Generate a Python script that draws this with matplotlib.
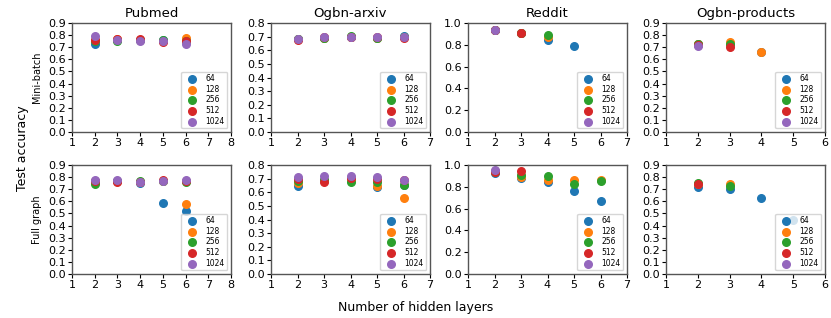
import matplotlib.pyplot as plt
import numpy as np

widths = ["64", "128", "256", "512", "1024"]
colors = ["tab:blue", "tab:orange", "tab:green", "tab:red", "tab:purple"]
datasets = ["Pubmed", "Ogbn-arxiv", "Reddit", "Ogbn-products"]
rows = ["Mini-batch", "Full graph"]

# layers used per (row, dataset, width) and the matching accuracies
mini_pubmed_x = [[2, 3, 4, 5, 6]] * 5
mini_pubmed_y = [[0.73, 0.76, 0.76, 0.76, 0.75],
                 [0.76, 0.77, 0.76, 0.75, 0.78],
                 [0.75, 0.75, 0.76, 0.76, 0.75],
                 [0.76, 0.77, 0.77, 0.74, 0.75],
                 [0.79, 0.76, 0.75, 0.75, 0.73]]
mini_arxiv_x = [[2, 3, 4, 5, 6]] * 5
mini_arxiv_y = [[0.68, 0.69, 0.70, 0.69, 0.705],
                [0.68, 0.69, 0.70, 0.69, 0.70],
                [0.68, 0.69, 0.705, 0.69, 0.70],
                [0.675, 0.695, 0.70, 0.695, 0.69],
                [0.685, 0.70, 0.70, 0.70, 0.70]]
mini_reddit_x = [[2, 3, 4, 5], [2, 3, 4], [2, 3, 4], [2, 3], [2]]
mini_reddit_y = [[0.94, 0.91, 0.84, 0.79],
                 [0.94, 0.91, 0.87],
                 [0.94, 0.91, 0.89],
                 [0.94, 0.91],
                 [0.94]]
mini_products_x = [[2, 3, 4], [2, 3, 4], [2, 3], [2, 3], [2]]
mini_products_y = [[0.73, 0.73, 0.66],
                   [0.73, 0.74, 0.66],
                   [0.73, 0.73],
                   [0.72, 0.70],
                   [0.71]]

full_pubmed_x = [[2, 3, 4, 5, 6]] * 5
full_pubmed_y = [[0.77, 0.77, 0.75, 0.59, 0.52],
                 [0.77, 0.77, 0.76, 0.77, 0.58],
                 [0.745, 0.77, 0.77, 0.77, 0.76],
                 [0.77, 0.76, 0.76, 0.775, 0.77],
                 [0.775, 0.775, 0.76, 0.765, 0.775]]
full_arxiv_x = [[2, 3, 4, 5, 6]] * 5
full_arxiv_y = [[0.645, 0.69, 0.69, 0.64, 0.65],
                [0.665, 0.69, 0.69, 0.645, 0.56],
                [0.68, 0.69, 0.677, 0.675, 0.65],
                [0.697, 0.677, 0.707, 0.695, 0.69],
                [0.714, 0.72, 0.72, 0.709, 0.69]]
full_reddit_x = [[2, 3, 4, 5, 6], [2, 3, 4, 5, 6], [2, 3, 4, 5, 6], [2, 3], [2]]
full_reddit_y = [[0.93, 0.88, 0.84, 0.765, 0.67],
                 [0.945, 0.89, 0.865, 0.86, 0.865],
                 [0.94, 0.91, 0.895, 0.825, 0.857],
                 [0.94, 0.945],
                 [0.955]]
full_products_x = [[2, 3, 4, 5], [2, 3], [2, 3], [2], []]
full_products_y = [[0.715, 0.70, 0.63, 0.45],
                   [0.745, 0.745],
                   [0.75, 0.727],
                   [0.74],
                   []]

all_x = [[mini_pubmed_x, mini_arxiv_x, mini_reddit_x, mini_products_x],
         [full_pubmed_x, full_arxiv_x, full_reddit_x, full_products_x]]
all_y = [[mini_pubmed_y, mini_arxiv_y, mini_reddit_y, mini_products_y],
         [full_pubmed_y, full_arxiv_y, full_reddit_y, full_products_y]]

xmax = [8, 7, 7, 6]
ymax = [0.9, 0.8, 1.0, 0.9]
ystep = [0.1, 0.1, 0.2, 0.1]

fig = plt.figure(figsize=(8.31, 3.18), dpi=100)
W, H = 831, 318
lefts = [72, 271, 468, 666]
tops = [23, 165]
aw, ah = 159, 109

for r in range(2):
    for c in range(4):
        ax = fig.add_axes([lefts[c] / W, 1 - (tops[r] + ah) / H, aw / W, ah / H])
        for k in range(5):
            ax.scatter(all_x[r][c][k], all_y[r][c][k], color=colors[k], s=30,
                       label=widths[k], zorder=2)
        ax.set_xlim(1, xmax[c])
        ax.set_ylim(0, ymax[c])
        ax.set_xticks(range(1, xmax[c] + 1))
        ax.set_yticks(np.round(np.arange(0, ymax[c] + 1e-9, ystep[c]), 1))
        ax.tick_params(labelsize=8, length=3, pad=1.5)
        for s in ax.spines.values():
            s.set_color("#555555")
            s.set_linewidth(1.0)
        leg = ax.legend(loc="lower right", fontsize=5.5, labelspacing=0.2,
                        borderpad=0.35)
        leg.set_zorder(3)
        if r == 0:
            ax.set_title(datasets[c], fontsize=9.5, pad=4)
        if c == 0:
            ax.set_ylabel(rows[r], fontsize=7, labelpad=4)

fig.text(23 / W, 1 - 148 / H, "Test accuracy", rotation=90, ha="center",
         va="center", fontsize=9)
fig.text(0.5, 1 - 307 / H, "Number of hidden layers", ha="center",
         va="center", fontsize=9)

fig.savefig("out.png", dpi=100)
